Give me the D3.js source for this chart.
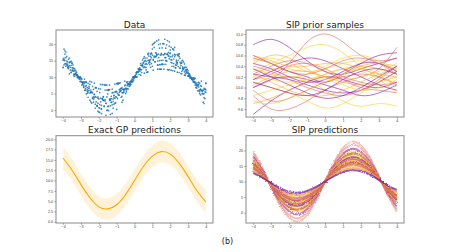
<!DOCTYPE html>
<html>
<head>
<meta charset="utf-8">
<script src="https://cdn.jsdelivr.net/npm/d3@7"></script>
<style>
  body { margin: 0; background: #fff; }
  svg { display: block; font-family: "DejaVu Sans", sans-serif; }
  .axis .domain { display: none; }
  .axis line { stroke: #555; stroke-width: 0.6; }
  .axis text { font-size: 3.8px; fill: #444; }
  .frame { fill: none; stroke: #8a8a8a; stroke-width: 1; }
  .panel-title { font-size: 9px; fill: #222; text-anchor: middle; }
</style>
</head>
<body>
<svg id="chart" width="449" height="252"></svg>
<script>
// ---- data ----
const xTicks = [-4, -3, -2, -1, 0, 1, 2, 3, 4];
const dataYTicks = [0, 5, 10, 15, 20];
const priorYTicks = [9.6, 9.8, 10.0, 10.2, 10.4, 10.6, 10.8, 11.0];
const gpYTicks = [0, 2.5, 5, 7.5, 10, 12.5, 15, 17.5, 20];
const sipYTicks = [0, 5, 10, 15, 20];

// observed points: [x, y, y, y, y]
const dataRows = [
  [-4.00,12.9,15.1,13.0,15.5],[-3.95,18.5,13.7,15.8,15.3],[-3.90,14.1,15.0,17.0,18.0],[-3.85,15.9,17.6,14.0,13.3],
  [-3.80,13.7,16.3,14.1,14.9],[-3.75,12.8,14.6,13.9,13.4],[-3.70,13.2,15.4,13.1,12.6],[-3.65,14.4,15.8,13.5,11.0],
  [-3.60,12.2,14.6,14.7,13.0],[-3.55,11.4,14.8,13.6,11.5],[-3.50,12.9,14.3,12.1,14.2],[-3.45,13.7,11.8,12.8,12.2],
  [-3.40,10.9,10.4,11.9,12.7],[-3.35,10.9,10.3,12.5,11.9],[-3.30,11.0,12.0,11.1,11.2],[-3.25,10.8,11.5,10.5,10.7],
  [-3.20,9.9,10.6,10.7,10.1],[-3.15,10.2,10.1,9.8,10.1],[-3.10,9.5,10.0,9.8,9.4],[-3.05,8.7,9.9,10.1,10.0],
  [-3.00,9.6,9.2,8.6,9.7],[-2.95,7.6,8.5,8.6,9.4],[-2.90,7.8,8.4,8.0,8.2],[-2.85,7.4,7.0,6.9,8.6],
  [-2.80,6.0,8.1,8.4,9.4],[-2.75,8.6,6.5,6.0,7.2],[-2.70,8.4,4.9,8.5,7.4],[-2.65,6.8,5.1,6.2,5.7],
  [-2.60,8.1,5.3,5.9,3.9],[-2.55,6.7,6.6,6.0,7.2],[-2.50,3.0,8.7,5.2,7.8],[-2.45,5.3,5.5,6.1,2.5],
  [-2.40,8.5,5.5,5.4,2.1],[-2.35,5.2,7.2,3.6,3.7],[-2.30,4.1,2.4,6.3,3.3],[-2.25,4.8,3.8,4.7,8.2],
  [-2.20,4.1,0.6,6.8,1.8],[-2.15,2.5,6.7,3.9,6.8],[-2.10,1.3,1.2,1.4,5.7],[-2.05,3.6,4.0,-0.3,2.1],
  [-2.00,6.5,3.4,0.7,-0.6],[-1.95,1.7,5.3,-0.7,0.6],[-1.90,7.8,2.5,6.4,3.6],[-1.85,1.4,0.3,0.4,-1.1],
  [-1.80,3.4,3.5,3.3,7.7],[-1.75,4.0,2.9,3.0,4.1],[-1.70,1.2,1.1,7.7,2.9],[-1.65,6.1,7.6,3.2,2.8],
  [-1.60,7.6,2.0,-1.6,2.1],[-1.55,6.1,-0.1,7.6,4.0],[-1.50,4.9,0.0,6.1,1.1],[-1.45,6.2,-0.2,6.0,1.2],
  [-1.40,6.2,2.9,3.3,7.6],[-1.35,-1.3,3.0,3.4,1.3],[-1.30,2.3,3.5,2.4,4.2],[-1.25,-1.0,1.6,6.4,5.2],
  [-1.20,3.3,5.3,0.6,2.6],[-1.15,3.8,1.8,4.5,4.4],[-1.10,2.1,3.6,7.9,5.5],[-1.05,5.6,4.1,5.5,2.2],
  [-1.00,3.9,5.7,0.2,8.0],[-0.95,3.5,5.1,8.1,8.0],[-0.90,8.1,4.7,8.0,4.6],[-0.85,6.2,4.5,8.2,5.4],
  [-0.80,5.7,8.3,5.8,6.4],[-0.75,5.9,3.9,6.5,6.6],[-0.70,4.2,5.3,2.4,6.8],[-0.65,6.4,6.3,5.2,3.0],
  [-0.60,5.4,6.1,5.5,6.2],[-0.55,6.2,7.4,6.4,8.8],[-0.50,6.5,6.7,7.6,5.0],[-0.45,6.5,8.5,6.1,5.5],
  [-0.40,8.1,8.6,7.4,6.5],[-0.35,7.7,6.4,8.0,7.9],[-0.30,7.8,7.2,8.6,7.9],[-0.25,8.2,7.4,8.3,7.7],
  [-0.20,7.8,8.4,8.7,8.8],[-0.15,8.6,8.8,9.4,8.9],[-0.10,8.6,10.0,9.3,8.7],[-0.05,9.6,10.0,10.1,9.1],
  [0.00,9.8,10.1,10.2,10.2],[0.05,10.6,10.1,10.3,10.2],[0.10,10.0,11.4,10.9,11.3],[0.15,11.6,10.1,11.4,11.7],
  [0.20,11.5,11.6,12.5,11.7],[0.25,12.3,10.8,12.6,12.2],[0.30,12.2,11.8,12.8,12.4],[0.35,14.2,12.3,13.6,10.6],
  [0.40,13.5,12.3,11.4,13.6],[0.45,13.5,13.4,13.9,15.2],[0.50,14.4,12.9,14.3,15.7],[0.55,16.2,11.2,14.8,13.2],
  [0.60,12.9,13.9,15.1,15.8],[0.65,14.1,14.8,13.0,12.2],[0.70,11.4,15.8,11.5,13.9],[0.75,17.0,16.9,15.0,11.6],
  [0.80,14.3,17.3,16.4,15.2],[0.85,14.6,15.1,14.5,13.8],[0.90,17.0,16.3,15.3,13.0],[0.95,15.9,17.3,14.1,17.2],
  [1.00,16.7,19.8,13.3,18.5],[1.05,15.3,12.1,15.2,20.1],[1.10,16.0,16.4,20.3,19.0],[1.15,16.2,20.6,14.6,14.7],
  [1.20,17.4,16.3,16.2,17.3],[1.25,21.0,16.8,16.9,16.7],[1.30,12.4,13.7,13.6,14.9],[1.35,17.0,19.9,15.9,21.3],
  [1.40,13.8,12.4,18.8,15.0],[1.45,12.4,13.8,16.7,20.1],[1.50,15.1,12.4,17.2,16.8],[1.55,18.9,13.9,13.8,14.0],
  [1.60,20.1,16.8,20.2,15.1],[1.65,13.9,20.1,12.4,16.8],[1.70,21.5,17.1,15.9,17.2],[1.75,15.0,18.8,13.9,15.9],
  [1.80,14.9,15.0,19.8,17.0],[1.85,12.3,16.9,17.0,21.1],[1.90,12.2,17.5,16.4,16.5],[1.95,19.4,15.6,20.7,12.3],
  [2.00,18.2,16.2,17.3,17.2],[2.05,12.1,15.3,14.5,19.0],[2.10,14.3,15.2,13.3,16.2],[2.15,16.7,18.5,12.0,18.6],
  [2.20,15.5,13.2,14.1,18.2],[2.25,19.0,16.9,16.2,11.8],[2.30,16.7,12.8,12.9,13.7],[2.35,14.8,14.3,15.2,13.6],
  [2.40,16.9,14.5,14.0,11.5],[2.45,16.6,13.2,15.1,16.5],[2.50,17.1,17.0,16.2,11.4],[2.55,12.8,14.5,15.7,12.7],
  [2.60,14.1,11.1,13.5,14.2],[2.65,11.7,14.9,14.3,11.0],[2.70,12.6,12.1,15.1,13.1],[2.75,12.6,12.7,14.6,12.5],
  [2.80,13.0,14.0,10.6,11.6],[2.85,13.0,12.1,10.5,11.0],[2.90,11.8,12.2,11.4,13.0],[2.95,12.4,11.1,12.3,11.5],
  [3.00,10.4,11.4,11.9,10.3],[3.05,10.6,11.1,11.0,10.3],[3.10,9.8,10.3,10.8,10.5],[3.15,9.8,9.9,10.1,9.8],
  [3.20,9.5,9.6,9.7,9.4],[3.25,9.4,9.2,9.7,9.1],[3.30,8.5,8.7,9.8,9.3],[3.35,9.7,9.4,8.7,8.4],
  [3.40,8.3,8.5,7.6,9.6],[3.45,8.0,6.8,7.8,6.9],[3.50,7.4,8.3,6.7,7.5],[3.55,7.6,7.7,5.8,7.3],
  [3.60,6.0,7.0,8.4,7.8],[3.65,5.0,5.6,8.2,6.1],[3.70,4.6,7.4,6.4,6.2],[3.75,8.8,6.1,7.2,5.9],
  [3.80,5.9,5.1,5.8,5.0],[3.85,2.4,4.8,6.0,6.1],[3.90,6.6,2.0,5.0,3.8],[3.95,6.3,6.4,3.5,5.6],
  [4.00,6.2,8.2,5.4,8.1]
];

// SIP prior samples, values at x = -4 .. 4
const priorX = [-4, -3, -2, -1, 0, 1, 2, 3, 4];
const priorColors = ['#8f0da4', '#e16462', '#fcce25', '#8f0da4', '#e16462', '#fcce25', '#8f0da4', '#fca636',
  '#fcce25', '#8f0da4', '#e16462', '#fca636', '#fcce25', '#8f0da4', '#e16462', '#fcce25', '#8f0da4', '#fca636',
  '#e16462', '#fcce25', '#8f0da4', '#fca636', '#fcce25', '#8f0da4', '#e16462', '#fca636', '#fcce25', '#8f0da4',
  '#e16462', '#fcce25'];
const priorSamples = [
  [10.80,10.90,10.75,10.50,10.30,10.25,10.35,10.45,10.55],
  [10.00,10.15,10.45,10.85,11.00,10.85,10.60,10.50,10.55],
  [10.30,10.45,10.60,10.75,10.80,10.65,10.40,10.20,10.10],
  [9.50,9.75,9.95,10.10,10.20,10.15,10.05,10.00,10.10],
  [9.85,9.60,9.60,9.75,9.95,10.10,10.20,10.35,10.75],
  [10.20,10.35,10.30,10.15,9.95,9.75,9.65,9.70,9.65],
  [10.60,10.45,10.30,10.20,10.10,10.25,10.45,10.60,10.65],
  [10.45,10.60,10.55,10.35,10.20,10.25,10.40,10.45,10.40],
  [10.10,10.00,9.90,9.75,9.62,9.70,9.90,10.10,10.30],
  [10.25,10.20,10.15,10.05,9.95,9.90,9.95,10.10,10.30],
  [10.15,10.25,10.40,10.45,10.35,10.20,10.10,10.05,10.10],
  [9.70,9.80,9.95,10.10,10.25,10.35,10.40,10.35,10.25],
  [10.55,10.45,10.35,10.30,10.35,10.45,10.50,10.45,10.35],
  [10.00,10.15,10.20,10.15,10.05,9.95,9.85,9.90,10.05],
  [10.40,10.30,10.15,10.00,9.90,9.85,9.95,10.15,10.40],
  [10.35,10.25,10.20,10.25,10.40,10.55,10.60,10.50,10.30],
  [10.15,10.30,10.45,10.55,10.50,10.35,10.20,10.05,9.95],
  [10.25,10.10,9.95,9.85,9.85,9.95,10.10,10.25,10.35],
  [9.95,9.75,9.80,9.95,10.10,10.20,10.25,10.20,10.05],
  [10.50,10.55,10.45,10.30,10.20,10.15,10.20,10.30,10.45],
  [10.45,10.35,10.20,10.10,10.15,10.30,10.45,10.45,10.30],
  [10.05,10.20,10.30,10.30,10.20,10.10,10.05,10.10,10.20],
  [9.75,9.70,9.80,9.95,10.10,10.25,10.35,10.25,10.00],
  [10.35,10.20,10.05,9.90,9.80,9.85,10.00,10.20,10.40],
  [10.25,10.40,10.50,10.45,10.30,10.15,10.00,9.95,9.90],
  [10.60,10.50,10.40,10.40,10.45,10.45,10.35,10.25,10.20],
  [10.20,10.15,10.10,10.15,10.25,10.35,10.30,10.15,9.90],
  [10.10,10.00,9.90,9.85,9.95,10.15,10.30,10.35,10.25],
  [10.55,10.45,10.30,10.25,10.35,10.50,10.55,10.45,10.25],
  [9.85,9.95,10.05,10.15,10.15,10.05,9.95,10.00,10.15]
];

// exact GP predictions, x = -4 .. 4 step 0.5
const gpX = [-4, -3.5, -3, -2.5, -2, -1.5, -1, -0.5, 0, 0.5, 1, 1.5, 2, 2.5, 3, 3.5, 4];
const gpMean = [15.4, 12.5, 9.0, 5.8, 3.6, 3.1, 4.1, 6.6, 10.0, 13.4, 15.9, 17.0, 16.4, 14.2, 11.0, 7.5, 4.8];
const gpUpper = [18.2, 15.2, 11.6, 8.4, 6.2, 5.7, 6.7, 9.2, 12.6, 16.0, 18.5, 19.7, 19.0, 16.8, 13.6, 10.2, 7.7];
const gpLower = [12.7, 9.9, 6.4, 3.2, 1.0, 0.5, 1.5, 4.0, 7.4, 10.8, 13.3, 14.4, 13.8, 11.6, 8.4, 4.9, 2.0];

// SIP predictions, same x grid as gpX
const sipColors = ['#ed7953', '#e16462', '#b12a90', '#fcce25', '#8f0da4', '#fca636', '#f0e030', '#6a00a8',
  '#f89540', '#cc4778', '#fcce25', '#e16462', '#9c179e', '#fca636', '#cc4778', '#f5d33a', '#f2844b', '#5c01a6'];
const sipSamples = [
  [19.7,14.5,8.2,2.3,-1.6,-2.8,-0.8,3.9,10.0,16.1,20.8,22.8,21.6,17.7,11.8,5.5,0.3],
  [18.9,14.1,8.3,2.9,-0.7,-1.8,0.1,4.3,10.0,15.7,19.9,21.8,20.7,17.1,11.7,5.9,1.1],
  [18.0,13.7,8.5,3.7,0.5,-0.5,1.2,5.0,10.0,15.0,18.8,20.5,19.5,16.3,11.5,6.3,2.1],
  [17.2,13.3,8.7,4.3,1.4,0.5,2.0,5.5,10.0,14.6,18.0,19.5,18.6,15.7,11.3,6.7,2.8],
  [16.8,13.2,8.7,4.6,1.8,1.0,2.4,5.7,10.0,14.3,17.6,19.0,18.2,15.4,11.3,6.8,3.2],
  [16.7,13.1,8.8,4.7,2.0,1.2,2.6,5.8,10.0,14.2,17.4,18.8,18.0,15.3,11.2,6.9,3.3],
  [16.3,12.9,8.8,5.0,2.5,1.7,3.0,6.0,10.0,14.0,17.0,18.3,17.5,15.0,11.2,7.1,3.7],
  [15.9,12.7,8.9,5.3,2.9,2.2,3.4,6.3,10.0,13.7,16.6,17.8,17.1,14.7,11.1,7.3,4.1],
  [15.5,12.6,9.0,5.6,3.4,2.7,3.9,6.5,10.0,13.5,16.1,17.3,16.6,14.4,11.0,7.4,4.5],
  [15.3,12.5,9.0,5.8,3.6,3.0,4.1,6.6,10.0,13.4,15.9,17.0,16.4,14.2,11.0,7.5,4.7],
  [15.0,12.3,9.1,6.1,4.0,3.4,4.5,6.8,10.0,13.2,15.6,16.6,16.0,14.0,10.9,7.7,5.0],
  [14.7,12.2,9.1,6.3,4.4,3.8,4.8,7.0,10.0,13.0,15.2,16.2,15.6,13.7,10.9,7.8,5.3],
  [14.5,12.1,9.2,6.4,4.5,4.0,5.0,7.1,10.0,12.9,15.0,16.0,15.5,13.6,10.8,7.9,5.5],
  [14.4,12.0,9.2,6.5,4.7,4.2,5.1,7.2,10.0,12.8,14.9,15.8,15.3,13.5,10.8,8.0,5.6],
  [14.0,11.9,9.3,6.8,5.2,4.7,5.5,7.5,10.0,12.5,14.5,15.3,14.8,13.2,10.8,8.1,6.0],
  [13.6,11.7,9.3,7.1,5.6,5.2,6.0,7.7,10.0,12.3,14.0,14.8,14.4,12.9,10.7,8.3,6.4],
  [13.3,11.5,9.4,7.4,6.1,5.7,6.4,7.9,10.0,12.1,13.6,14.3,13.9,12.6,10.6,8.5,6.7],
  [12.7,11.3,9.5,7.9,6.7,6.4,7.0,8.3,10.0,11.7,13.0,13.6,13.3,12.2,10.5,8.7,7.3]
];

class Panel {

  constructor(_config) {
    this.config = {
      parentElement: _config.parentElement,
      id: _config.id,
      left: _config.left,
      top: _config.top,
      width: _config.width,
      height: _config.height,
      xDomain: _config.xDomain,
      yDomain: _config.yDomain,
      yTicks: _config.yTicks,
      yFormat: _config.yFormat,
      title: _config.title
    }
    this.initVis();
  }

  initVis() {
    let vis = this;
    let c = vis.config;

    vis.xScale = d3.scaleLinear().domain(c.xDomain).range([0, c.width]);
    vis.yScale = d3.scaleLinear().domain(c.yDomain).range([c.height, 0]);

    vis.chart = d3.select(c.parentElement).append('g')
        .attr('transform', `translate(${c.left},${c.top})`);

    vis.chart.append('clipPath')
        .attr('id', 'clip-' + c.id)
      .append('rect')
        .attr('width', c.width)
        .attr('height', c.height);

    vis.body = vis.chart.append('g')
        .attr('clip-path', `url(#clip-${c.id})`);

    vis.xAxis = d3.axisBottom(vis.xScale)
        .tickValues(xTicks)
        .tickSize(1.6)
        .tickPadding(1.2)
        .tickFormat(d3.format('d'));

    vis.yAxis = d3.axisLeft(vis.yScale)
        .tickValues(c.yTicks)
        .tickSize(1.6)
        .tickPadding(1.2)
        .tickFormat(d3.format(c.yFormat));

    vis.chart.append('g')
        .attr('class', 'axis x-axis')
        .attr('transform', `translate(0,${c.height})`)
        .call(vis.xAxis);

    vis.chart.append('g')
        .attr('class', 'axis y-axis')
        .call(vis.yAxis);

    vis.chart.append('text')
        .attr('class', 'panel-title')
        .attr('x', c.width / 2)
        .attr('y', -2.5)
        .text(c.title);
  }

  // frame goes on top of the marks
  addFrame() {
    let vis = this;
    vis.chart.append('rect')
        .attr('class', 'frame')
        .attr('width', vis.config.width)
        .attr('height', vis.config.height);
  }
}

const svg = d3.select('#chart');

// fuzzy look for the SIP prediction traces
const fuzz = svg.append('defs').append('filter')
    .attr('id', 'fuzz')
    .attr('x', '-5%').attr('y', '-5%')
    .attr('width', '110%').attr('height', '110%');
fuzz.append('feTurbulence')
    .attr('type', 'fractalNoise')
    .attr('baseFrequency', 0.9)
    .attr('numOctaves', 1)
    .attr('seed', 4)
    .attr('result', 'noise');
fuzz.append('feDisplacementMap')
    .attr('in', 'SourceGraphic')
    .attr('in2', 'noise')
    .attr('scale', 3)
    .attr('xChannelSelector', 'R')
    .attr('yChannelSelector', 'G');

const xDom = [-4.4, 4.4];

// ---- Data ----
const p1 = new Panel({ parentElement: '#chart', id: 'p1', left: 56, top: 30, width: 157, height: 87,
  xDomain: xDom, yDomain: [-2.1, 24.3], yTicks: dataYTicks, yFormat: 'd', title: 'Data' });

const points = dataRows.flatMap(r => r.slice(1).map(y => ({ x: r[0], y: y })));
p1.body.selectAll('circle')
    .data(points)
  .enter().append('circle')
    .attr('cx', d => p1.xScale(d.x))
    .attr('cy', d => p1.yScale(d.y))
    .attr('r', 0.85)
    .attr('fill', '#1f77b4')
    .attr('fill-opacity', 0.85);
p1.addFrame();

// ---- SIP prior samples ----
const p2 = new Panel({ parentElement: '#chart', id: 'p2', left: 246, top: 30, width: 158, height: 87,
  xDomain: xDom, yDomain: [9.45, 11.075], yTicks: priorYTicks, yFormat: '.1f', title: 'SIP prior samples' });

const priorLine = d3.line()
    .x((d, i) => p2.xScale(priorX[i]))
    .y(d => p2.yScale(d))
    .curve(d3.curveNatural);

p2.body.selectAll('path.prior')
    .data(priorSamples)
  .enter().append('path')
    .attr('class', 'prior')
    .attr('d', priorLine)
    .attr('fill', 'none')
    .attr('stroke', (d, i) => priorColors[i])
    .attr('stroke-opacity', 0.6)
    .attr('stroke-width', 1);
p2.addFrame();

// ---- Exact GP predictions ----
const p3 = new Panel({ parentElement: '#chart', id: 'p3', left: 56, top: 135.7, width: 157, height: 87.3,
  xDomain: xDom, yDomain: [-0.32, 20.87], yTicks: gpYTicks, yFormat: '.1f', title: 'Exact GP predictions' });

const gpArea = d3.area()
    .x((d, i) => p3.xScale(gpX[i]))
    .y0((d, i) => p3.yScale(gpLower[i]))
    .y1(d => p3.yScale(d))
    .curve(d3.curveNatural);

const gpLine = d3.line()
    .x((d, i) => p3.xScale(gpX[i]))
    .y(d => p3.yScale(d))
    .curve(d3.curveNatural);

p3.body.append('path')
    .datum(gpUpper)
    .attr('d', gpArea)
    .attr('fill', '#ffa500')
    .attr('fill-opacity', 0.15);

p3.body.append('path')
    .datum(gpMean)
    .attr('d', gpLine)
    .attr('fill', 'none')
    .attr('stroke', '#ffa500')
    .attr('stroke-width', 1.1);
p3.addFrame();

// ---- SIP predictions ----
const p4 = new Panel({ parentElement: '#chart', id: 'p4', left: 246, top: 135.7, width: 158, height: 87.3,
  xDomain: xDom, yDomain: [-3.3, 24.7], yTicks: sipYTicks, yFormat: 'd', title: 'SIP predictions' });

const sipLine = d3.line()
    .x((d, i) => p4.xScale(gpX[i]))
    .y(d => p4.yScale(d))
    .curve(d3.curveNatural);

p4.body.append('g')
    .attr('filter', 'url(#fuzz)')
  .selectAll('path')
    .data(sipSamples)
  .enter().append('path')
    .attr('d', sipLine)
    .attr('fill', 'none')
    .attr('stroke', (d, i) => sipColors[i])
    .attr('stroke-opacity', (d, i) => i < 2 ? 0.45 : 0.65)
    .attr('stroke-width', 1.9);
p4.addFrame();

// caption
svg.append('text')
    .attr('x', 227.5)
    .attr('y', 243.5)
    .attr('text-anchor', 'middle')
    .attr('font-size', 8)
    .attr('fill', '#222')
    .text('(b)');
</script>
</body>
</html>
